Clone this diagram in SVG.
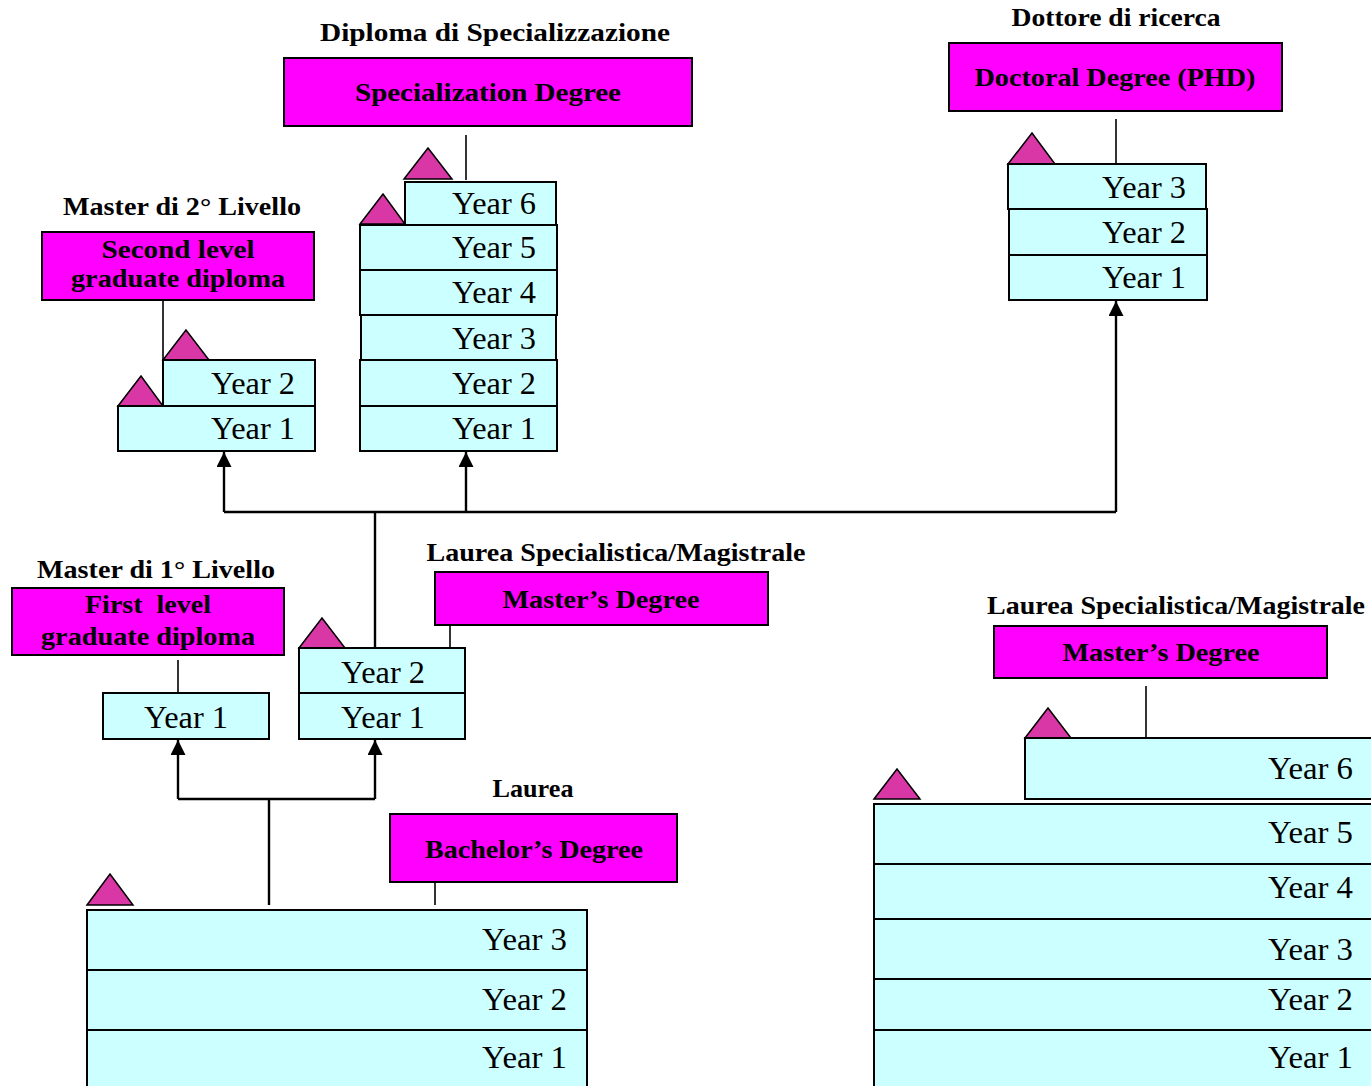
<svg xmlns="http://www.w3.org/2000/svg" width="1371" height="1086" viewBox="0 0 1371 1086">
<style>
.deg{fill:#FF00FF;stroke:#000;stroke-width:2}
.yr{fill:#CCFFFF;stroke:#000;stroke-width:2}
.tri{fill:#D936A6;stroke:#000;stroke-width:1.5}
.lbl{font-family:"Liberation Serif",serif;font-weight:bold;font-size:26px;fill:#000}
.yt{font-family:"Liberation Serif",serif;font-size:31px;text-anchor:end;fill:#000}
.ln{stroke:#000;stroke-width:1.6;fill:none}
.conn{stroke:#000;stroke-width:2.4;fill:none}
</style>
<defs>
<marker id="ah" viewBox="0 0 15 15" refX="15" refY="7.5" markerWidth="15" markerHeight="15" markerUnits="userSpaceOnUse" orient="auto">
<path d="M0,0 L15,7.5 L0,15 z" fill="#000"/>
</marker>
</defs>
<rect width="1371" height="1086" fill="#fff"/>

<g id="connectors">
<path class="conn" d="M224,512 L1116,512"/>
<path class="conn" d="M224,512 L224,452" marker-end="url(#ah)"/>
<path class="conn" d="M466,512 L466,452" marker-end="url(#ah)"/>
<path class="conn" d="M1116,512 L1116,301" marker-end="url(#ah)"/>
<path class="conn" d="M375,512 L375,648"/>
<path class="conn" d="M178,799 L375,799"/>
<path class="conn" d="M178,799 L178,740" marker-end="url(#ah)"/>
<path class="conn" d="M375,799 L375,740" marker-end="url(#ah)"/>
<path class="conn" d="M269,799 L269,905"/>
<path class="ln" d="M466,135 L466,180"/>
<path class="ln" d="M163,300 L163,360"/>
<path class="ln" d="M1116,119 L1116,164"/>
<path class="ln" d="M450,625 L450,648"/>
<path class="ln" d="M178,660 L178,693"/>
<path class="ln" d="M435,882 L435,905"/>
<path class="ln" d="M1146,686 L1146,738"/>
</g>

<g id="specialization">
<text class="lbl" x="495" y="41" text-anchor="middle" textLength="350" lengthAdjust="spacingAndGlyphs">Diploma di Specializzazione</text>
<rect class="deg" x="284" y="58" width="408" height="68"/>
<text class="lbl" x="488" y="101" text-anchor="middle" textLength="266" lengthAdjust="spacingAndGlyphs">Specialization Degree</text>
<polygon class="tri" points="404,179 428,148 452,179"/>
<polygon class="tri" points="360,224 383,194 405,224"/>
<rect class="yr" x="405" y="182" width="151" height="43"/>
<rect class="yr" x="360" y="225" width="197" height="45"/>
<rect class="yr" x="360" y="270" width="197" height="45"/>
<rect class="yr" x="361" y="315" width="195" height="45"/>
<rect class="yr" x="360" y="360" width="197" height="46"/>
<rect class="yr" x="360" y="406" width="197" height="45"/>
<text class="yt" x="536" y="214" textLength="84" lengthAdjust="spacingAndGlyphs">Year 6</text>
<text class="yt" x="536" y="258" textLength="84" lengthAdjust="spacingAndGlyphs">Year 5</text>
<text class="yt" x="536" y="303" textLength="84" lengthAdjust="spacingAndGlyphs">Year 4</text>
<text class="yt" x="536" y="349" textLength="84" lengthAdjust="spacingAndGlyphs">Year 3</text>
<text class="yt" x="536" y="394" textLength="84" lengthAdjust="spacingAndGlyphs">Year 2</text>
<text class="yt" x="536" y="439" textLength="84" lengthAdjust="spacingAndGlyphs">Year 1</text>
</g>

<g id="master2">
<text class="lbl" x="182" y="215" text-anchor="middle" textLength="238" lengthAdjust="spacingAndGlyphs">Master di 2° Livello</text>
<rect class="deg" x="42" y="232" width="272" height="68"/>
<text class="lbl" x="178" y="258" text-anchor="middle" textLength="153" lengthAdjust="spacingAndGlyphs">Second level</text>
<text class="lbl" x="178" y="287" text-anchor="middle" textLength="214" lengthAdjust="spacingAndGlyphs">graduate diploma</text>
<polygon class="tri" points="163,360 186,330 209,360"/>
<polygon class="tri" points="118,406 141,376 163,406"/>
<rect class="yr" x="163" y="360" width="152" height="46"/>
<rect class="yr" x="118" y="406" width="197" height="45"/>
<text class="yt" x="295" y="394" textLength="84" lengthAdjust="spacingAndGlyphs">Year 2</text>
<text class="yt" x="295" y="439" textLength="84" lengthAdjust="spacingAndGlyphs">Year 1</text>
</g>

<g id="doctoral">
<text class="lbl" x="1116" y="26" text-anchor="middle" textLength="209" lengthAdjust="spacingAndGlyphs">Dottore di ricerca</text>
<rect class="deg" x="949" y="43" width="333" height="68"/>
<text class="lbl" x="1115" y="86" text-anchor="middle" textLength="281" lengthAdjust="spacingAndGlyphs">Doctoral Degree (PHD)</text>
<polygon class="tri" points="1008,164 1032,133 1055,164"/>
<rect class="yr" x="1008" y="164" width="198" height="45"/>
<rect class="yr" x="1009" y="209" width="198" height="46"/>
<rect class="yr" x="1009" y="255" width="198" height="45"/>
<text class="yt" x="1186" y="198" textLength="84" lengthAdjust="spacingAndGlyphs">Year 3</text>
<text class="yt" x="1186" y="243" textLength="84" lengthAdjust="spacingAndGlyphs">Year 2</text>
<text class="yt" x="1186" y="288" textLength="84" lengthAdjust="spacingAndGlyphs">Year 1</text>
</g>

<g id="masters-left">
<text class="lbl" x="616" y="561" text-anchor="middle" textLength="379" lengthAdjust="spacingAndGlyphs">Laurea Specialistica/Magistrale</text>
<rect class="deg" x="435" y="572" width="333" height="53"/>
<text class="lbl" x="601" y="608" text-anchor="middle" textLength="197" lengthAdjust="spacingAndGlyphs">Master’s Degree</text>
<polygon class="tri" points="299,648 322,618 345,648"/>
<rect class="yr" x="299" y="648" width="166" height="45"/>
<rect class="yr" x="299" y="693" width="166" height="46"/>
<text class="yt" x="425" y="683" textLength="84" lengthAdjust="spacingAndGlyphs">Year 2</text>
<text class="yt" x="425" y="728" textLength="84" lengthAdjust="spacingAndGlyphs">Year 1</text>
</g>

<g id="master1">
<text class="lbl" x="156" y="578" text-anchor="middle" textLength="238" lengthAdjust="spacingAndGlyphs">Master di 1° Livello</text>
<rect class="deg" x="12" y="588" width="272" height="67"/>
<text class="lbl" x="148" y="613" text-anchor="middle" textLength="126" lengthAdjust="spacingAndGlyphs" xml:space="preserve">First  level</text>
<text class="lbl" x="148" y="645" text-anchor="middle" textLength="214" lengthAdjust="spacingAndGlyphs">graduate diploma</text>
<rect class="yr" x="103" y="693" width="166" height="46"/>
<text class="yt" x="228" y="728" textLength="84" lengthAdjust="spacingAndGlyphs">Year 1</text>
</g>

<g id="bachelor">
<text class="lbl" x="533" y="797" text-anchor="middle" textLength="81" lengthAdjust="spacingAndGlyphs">Laurea</text>
<rect class="deg" x="390" y="814" width="287" height="68"/>
<text class="lbl" x="534" y="858" text-anchor="middle" textLength="218" lengthAdjust="spacingAndGlyphs">Bachelor’s Degree</text>
<polygon class="tri" points="87,905 110,874 133,905"/>
<rect class="yr" x="87" y="910" width="500" height="60"/>
<rect class="yr" x="87" y="970" width="500" height="60"/>
<rect class="yr" x="87" y="1030" width="500" height="70"/>
<text class="yt" x="567" y="950" textLength="85" lengthAdjust="spacingAndGlyphs">Year 3</text>
<text class="yt" x="567" y="1010" textLength="85" lengthAdjust="spacingAndGlyphs">Year 2</text>
<text class="yt" x="567" y="1068" textLength="85" lengthAdjust="spacingAndGlyphs">Year 1</text>
</g>

<g id="masters-right">
<text class="lbl" x="1176" y="614" text-anchor="middle" textLength="378" lengthAdjust="spacingAndGlyphs">Laurea Specialistica/Magistrale</text>
<rect class="deg" x="994" y="626" width="333" height="52"/>
<text class="lbl" x="1161" y="661" text-anchor="middle" textLength="197" lengthAdjust="spacingAndGlyphs">Master’s Degree</text>
<polygon class="tri" points="1025,738 1048,708 1071,738"/>
<polygon class="tri" points="874,799 897,769 920,799"/>
<rect class="yr" x="1025" y="738" width="360" height="61"/>
<rect class="yr" x="874" y="804" width="510" height="60"/>
<rect class="yr" x="874" y="864" width="510" height="55"/>
<rect class="yr" x="874" y="919" width="510" height="60"/>
<rect class="yr" x="874" y="979" width="510" height="51"/>
<rect class="yr" x="874" y="1030" width="510" height="70"/>
<text class="yt" x="1353" y="779" textLength="85" lengthAdjust="spacingAndGlyphs">Year 6</text>
<text class="yt" x="1353" y="843" textLength="85" lengthAdjust="spacingAndGlyphs">Year 5</text>
<text class="yt" x="1353" y="898" textLength="85" lengthAdjust="spacingAndGlyphs">Year 4</text>
<text class="yt" x="1353" y="960" textLength="85" lengthAdjust="spacingAndGlyphs">Year 3</text>
<text class="yt" x="1353" y="1010" textLength="85" lengthAdjust="spacingAndGlyphs">Year 2</text>
<text class="yt" x="1353" y="1068" textLength="85" lengthAdjust="spacingAndGlyphs">Year 1</text>
</g>
</svg>
